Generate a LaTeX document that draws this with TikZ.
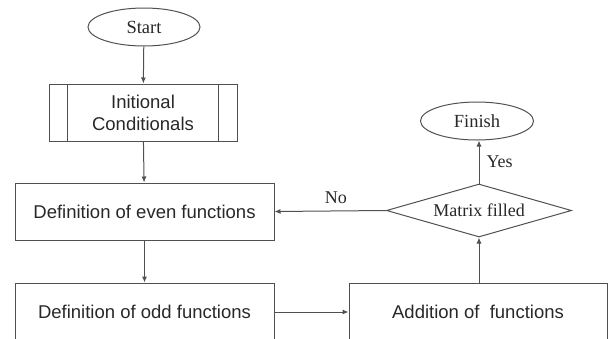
\documentclass[tikz,border=0pt]{standalone}
\usepackage{fontspec}
\setmainfont{Liberation Serif}
\setsansfont{Liberation Sans}
\usetikzlibrary{shapes.geometric,calc,positioning,arrows.meta}
\definecolor{linecol}{RGB}{80,80,80}
\definecolor{textcol}{RGB}{40,40,40}

\tikzset{
  box/.style={draw=linecol,line width=1pt,text=textcol,font=\sffamily\fontsize{18.5}{22}\selectfont,
    minimum height=57pt,inner sep=0pt,align=center},
  term/.style={draw=linecol,ellipse,line width=1pt,text=textcol,font=\fontsize{18.5}{22}\selectfont,
    minimum height=38pt,inner sep=0pt},
  test/.style={draw=linecol,diamond,line width=1pt,text=textcol,font=\fontsize{18}{21}\selectfont,
    minimum width=185pt,minimum height=53pt,inner sep=0pt,aspect=3.5},
  link/.style={-{Latex[length=6pt,width=5pt]},draw=linecol,line width=1pt},
  lbl/.style={text=textcol,font=\fontsize{18}{21}\selectfont}
}

\begin{document}
\begin{tikzpicture}[x=1pt,y=-1pt]
\useasboundingbox (0,0) rectangle (608,338);
\clip (0,0) rectangle (608,338);

% left column
\node[term,minimum width=112pt] (start) at (144,27) {Start};
\node[box,minimum width=188pt] (init) at (143,112.5) {Initional\\Conditionals};
\draw[draw=linecol,line width=1pt] ([xshift=19pt]init.north west) -- ([xshift=19pt]init.south west);
\draw[draw=linecol,line width=1pt] ([xshift=-19pt]init.north east) -- ([xshift=-19pt]init.south east);
\node[box,minimum width=259pt] (even) at (144.5,211.5) {Definition of even functions};
\node[box,minimum width=259pt,minimum height=58pt] (odd) at (144.5,312) {Definition of odd functions};

% right column
\node[box,minimum width=258pt,minimum height=58pt] (add) at (478,312) {Addition of~ functions};
\node[test] (full) at (479,210.5) {Matrix filled};
\node[term,minimum width=113pt] (finish) at (477,121) {Finish};

% arrows
\draw[link] (start) -- (init);
\draw[link] (init) -- (even);
\draw[link] (even) -- (odd);
\draw[link] (odd.east) -- (add.west);
\draw[link] (add.north -| full) -- (full.south);
\draw[link] (full.north) -- (finish.south -| full.north);
\draw[link] (full.west) -- (even.east) node[lbl,pos=0.45,above=3pt] (no) {No};
\node[lbl,right=4pt] (yes) at ($(full.north)!0.5!(finish.south -| full.north)$) {Yes};

\end{tikzpicture}
\end{document}
